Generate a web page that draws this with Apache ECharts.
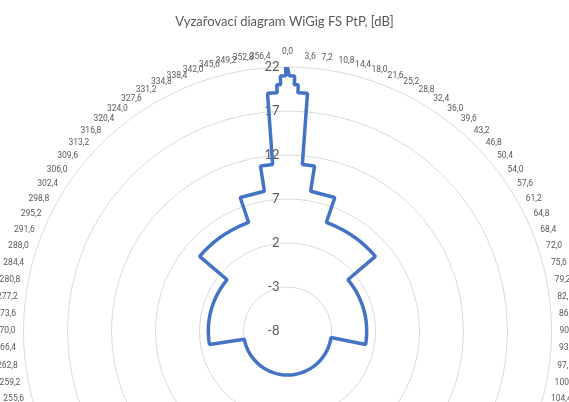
<!DOCTYPE html>
<html>
<head>
<meta charset="utf-8">
<title>Vyzařovací diagram</title>
<script src="https://cdn.jsdelivr.net/npm/echarts@6/dist/echarts.min.js"></script>
<style>
    html, body { margin: 0; padding: 0; background: #fff; }
    #main { width: 569px; height: 402px; }
</style>
</head>
<body>
<div id="main"></div>
<script>
    // úhly (stupně, po směru hodinových ručiček od 0,0) a zisk v dB
    var angleDeg = [
        0, 0.4, 0.4, 1.6, 1.6, 2.5, 2.5, 4.8, 5.1, 9.3, 9.4, 19.5, 19.7,
        25.2, 28.8, 32.4, 36.0, 39.6, 43.2, 46.8, 49.7, 49.7,
        54.0, 57.6, 61.2, 64.8, 68.4, 72.0, 75.6, 79.2, 82.8, 86.4, 90.0, 93.6, 97.2, 99.8, 98.6,
        100.8, 104.4, 108.0, 111.6, 115.2, 118.8, 122.4, 126.0, 129.6, 133.2, 136.8, 140.4,
        144.0, 147.6, 151.2, 154.8, 158.4, 162.0, 165.6, 169.2, 172.8, 176.4, 180.0,
        183.6, 187.2, 190.8, 194.4, 198.0, 201.6, 205.2, 208.8, 212.4, 216.0, 219.6,
        223.2, 226.8, 230.4, 234.0, 237.6, 241.2, 244.8, 248.4, 252.0, 255.6, 259.2, 261.4, 260.2,
        262.8, 266.4, 270.0, 273.6, 277.2, 280.8, 284.4, 288.0, 291.6, 295.2, 298.8, 302.4, 306.0, 310.3, 310.3,
        313.2, 316.8, 320.4, 324.0, 327.6, 331.2, 334.8, 338.4, 340.3, 340.5,
        350.6, 350.7, 354.9, 355.2, 357.5, 357.5, 358.4, 358.4, 359.6, 359.6, 360
    ];
    var gainDb = [
        22, 22, 21, 21, 20, 20, 19.1, 19.1, 11, 11, 8.1, 8.1, 5.1,
        5.1, 5.1, 5.1, 5.1, 5.1, 5.1, 5.1, 5.1, 1.0,
        1.0, 1.0, 1.0, 1.0, 1.0, 1.0, 1.0, 1.0, 1.0, 1.0, 1.0, 1.0, 1.0, 1.0, -3,
        -3, -3, -3, -3, -3, -3, -3, -3, -3, -3, -3, -3,
        -3, -3, -3, -3, -3, -3, -3, -3, -3, -3, -3,
        -3, -3, -3, -3, -3, -3, -3, -3, -3, -3, -3,
        -3, -3, -3, -3, -3, -3, -3, -3, -3, -3, -3, -3, 1.0,
        1.0, 1.0, 1.0, 1.0, 1.0, 1.0, 1.0, 1.0, 1.0, 1.0, 1.0, 1.0, 1.0, 1.0, 5.1,
        5.1, 5.1, 5.1, 5.1, 5.1, 5.1, 5.1, 5.1, 5.1, 8.1,
        8.1, 11, 11, 19.1, 19.1, 20, 20, 21, 21, 22, 22
    ];
    // osa zisku
    var radiusMin = -8;
    var radiusMax = 22;
    var radiusStep = 5;
    // popisky úhlů 0,0 ... 356,4 (krok 3,6)
    var angleTicks = [];
    for (var k = 0; k < 100; k++) {
        angleTicks.push(Math.round(k * 36) / 10);
    }
    var labelRadius = 22.9;

    var chartData = [];
    for (var i = 0; i < angleDeg.length; i++) {
        chartData.push([gainDb[i], angleDeg[i]]);
    }

    var myChart = echarts.init(document.getElementById('main'));
    myChart.setOption({
        animation: false,
        title: {
            text: 'Vyzařovací diagram WiGig FS PtP, [dB]',
            left: 'center',
            top: 10,
            textStyle: {
                fontFamily: 'Lato',
                fontSize: 13,
                fontWeight: 'normal',
                color: '#595959'
            }
        },
        polar: {
            center: [287.5, 331],
            radius: [0, 264]
        },
        angleAxis: {
            type: 'value',
            min: 0,
            max: 360,
            interval: 3.6,
            startAngle: 90,
            clockwise: true,
            axisLine: { show: false },
            axisTick: { show: false },
            splitLine: { show: false },
            axisLabel: { show: false }
        },
        radiusAxis: {
            type: 'value',
            min: radiusMin,
            max: radiusMax,
            interval: radiusStep,
            axisLine: { show: false },
            axisTick: { show: false },
            splitLine: {
                show: true,
                lineStyle: { color: '#d9d9d9', width: 1 }
            },
            axisLabel: {
                margin: 8,
                fontFamily: 'Lato',
                fontSize: 13,
                color: '#595959'
            }
        },
        series: [
            {
                name: 'WiGig FS PtP',
                type: 'line',
                coordinateSystem: 'polar',
                showSymbol: false,
                smooth: false,
                lineStyle: { color: '#4472c4', width: 3.5 },
                data: chartData
            }
        ]
    });

    // popisky kategorii ve stylu Excelu (zarovnani podle strany kruhu)
    var labels = [];
    for (var j = 0; j < angleTicks.length; j++) {
        var a = angleTicks[j];
        var p = myChart.convertToPixel({ seriesIndex: 0 }, [labelRadius, a]);
        var s = Math.sin(a * Math.PI / 180);
        var c = Math.cos(a * Math.PI / 180);
        var align = s > 0.01 ? 'left' : (s < -0.01 ? 'right' : 'center');
        var vAlign = align !== 'center' ? 'middle' : (c > 0 ? 'bottom' : 'top');
        labels.push({
            type: 'text',
            x: p[0],
            y: p[1] - 3 * c,
            silent: true,
            style: {
                text: a.toFixed(1).replace('.', ','),
                fill: '#595959',
                font: '8.5px "Liberation Sans Narrow", Roboto, sans-serif',
                align: align,
                verticalAlign: vAlign
            }
        });
    }
    myChart.setOption({ graphic: labels });
</script>
</body>
</html>
